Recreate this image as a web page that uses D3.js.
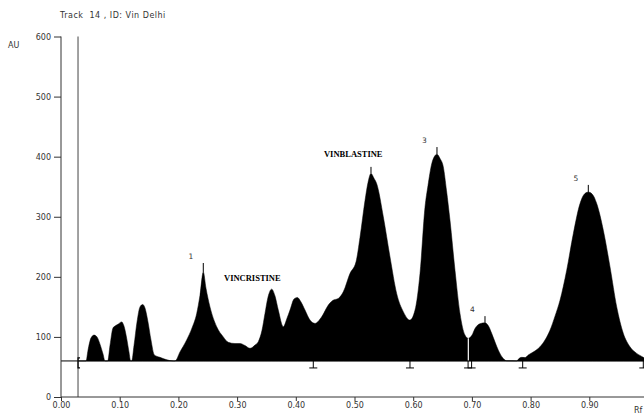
<!DOCTYPE html>
<html><head><meta charset="utf-8">
<script src="https://cdn.jsdelivr.net/npm/d3@7"></script>
<style>
body{margin:0;background:#fff}
svg{display:block}
</style>
</head><body>
<svg id="c" width="644" height="414"></svg>
<script>
// ---- data ----
const rf = [0.029,0.0426,0.046,0.051,0.0562,0.0613,0.0664,0.0716,0.075,
0.0796,0.0835,0.0886,0.092,0.097,0.1034,0.1073,0.1124,0.1158,0.1187,
0.1204,0.1244,0.1295,0.1346,0.1392,0.1431,0.1482,0.1533,0.159,0.1687,0.1789,0.1913,
0.1942,0.2027,0.2141,0.2232,0.2312,0.2368,0.2424,0.247,0.2538,0.2652,0.2765,0.285,0.2964,0.3049,0.3135,0.322,0.3305,0.3361,
0.3424,0.3475,0.3526,0.3589,0.3646,0.3702,0.3787,0.385,0.3901,0.3969,0.4026,0.4089,0.4157,0.4242,0.4327,
0.4441,0.4554,0.4634,0.4724,0.4809,0.4923,0.5026,0.5094,0.5179,0.523,0.5281,0.5332,0.5378,0.5491,0.5605,0.5719,0.5831,0.5945,
0.6031,0.6116,0.6201,0.6252,0.6315,0.6363,0.6405,0.6457,0.6513,0.6567,0.6627,0.6712,0.6797,0.6882,0.6939,
0.7002,0.7053,0.7138,0.7223,0.7283,0.7337,0.7394,0.745,0.7535,0.7593,0.7763,0.7802,0.7848,0.7905,0.7961,
0.8058,0.816,0.8245,0.833,0.8416,0.8501,0.8615,0.8728,0.8842,0.891,0.8983,0.9055,0.9126,0.9239,0.9353,0.9467,0.9579,0.9693,0.9807,0.992,1.0];
const au = [60,60,78,98,103,100,88,71.5,60,
60,86,115,118,121,125,118,95,75,60,
60,86,125,150,154,148,125,95,70,66,62.3,60,
60,75,95,115,139,169.5,208,181,150,117,100,91,89,89,85.6,81,86.4,92,
111,139,166,179.5,168,144.6,117,131,144.6,163,165.7,158,144.6,128,122.5,
133.5,153,161,164,175,205.6,225,266,327,357,372,364,355,300,233,172,142,128,
144.6,205.6,316,352,388,400.5,404,397,383,344,294,211,139,103,97.6,
103,114,122,123.5,118,106,91.4,78,64,60.3,60,64,66,65.6,70,
75.6,83.6,94.7,111,134.6,161,211,272,322,337,341,337,322,277.5,216.5,150,106,83.6,72.6,66,60];

const xTicks = [0,0.1,0.2,0.3,0.4,0.5,0.6,0.7,0.8,0.9];
const yTicks = [0,100,200,300,400,500,600];
const baselineAU = 60;
const startRf = 0.029;
const peakRf = [0.2424,0.5281,0.6405,0.7223,0.8983];
const peakAU = [208,372,404,123.5,341];
const peakTickAU = [223,383,416,134.6,353];
const peakLabels = ["1","","3","4","5"];
const boundaryRf = [0.4298,0.5945,0.6935,0.6995,0.7865,0.992];
const separatorRf = 0.6939;
const separatorAU = 97.6;
const annoText = ["VINCRISTINE","VINBLASTINE"];
const annoRf = [0.2777,0.448];
const annoAU = [193,400];
const title = "Track  14 , ID: Vin Delhi";

// ---- chart ----
const svg = d3.select("#c");
const x = d3.scaleLinear().domain([0,1]).range([61,648]);
const y = d3.scaleLinear().domain([0,600]).range([397,36.5]);
const axisCol = "#333";
const sans = "'DejaVu Sans',Verdana,sans-serif";

function label(tx,ty,t,size){
  return svg.append("text").attr("x",tx).attr("y",ty).style("font-family",sans)
    .style("font-size",size+"px").style("white-space","pre").attr("fill","#333").text(t);
}
label(60,18,title,8).style("letter-spacing","0.5px");
label(8,48,"AU",8);
label(634,413,"Rf",8);

// profile area
const pts = rf.map((r,i)=>[r,au[i]]);
const area = d3.area().x(d=>x(d[0])).y0(y(baselineAU)).y1(d=>y(d[1])).curve(d3.curveMonotoneX);
svg.append("path").datum(pts).attr("d",area).attr("fill","#000").attr("stroke","#000").attr("stroke-width",0.5);

// separator (white)
svg.append("line").attr("x1",x(separatorRf)).attr("x2",x(separatorRf))
  .attr("y1",y(baselineAU)).attr("y2",y(separatorAU)).attr("stroke","#fff").attr("stroke-width",1.2);

// baseline
svg.append("line").attr("x1",61).attr("x2",648).attr("y1",y(baselineAU)).attr("y2",y(baselineAU))
  .attr("stroke","#000").attr("stroke-width",1);

// start line
svg.append("line").attr("x1",x(startRf)).attr("x2",x(startRf)).attr("y1",y(600)).attr("y2",y(0))
  .attr("stroke","#444").attr("stroke-width",1);
// start marker
svg.append("path").attr("d",`M${x(startRf)+2},${y(baselineAU)-3} L${x(startRf)},${y(baselineAU)-3} L${x(startRf)},${y(baselineAU)+7} L${x(startRf)+2},${y(baselineAU)+7}`)
  .attr("fill","none").attr("stroke","#000").attr("stroke-width",1.2);

// boundary markers
const bm = svg.append("g");
boundaryRf.forEach(r=>{
  const px = x(r), py = y(baselineAU);
  bm.append("path").attr("d",`M${px},${py} L${px},${py+7} M${px-4},${py+7} L${px+4},${py+7}`)
    .attr("stroke","#000").attr("stroke-width",1).attr("fill","none");
});

// peak ticks and labels
peakRf.forEach((r,i)=>{
  svg.append("line").attr("x1",x(r)).attr("x2",x(r)).attr("y1",y(peakAU[i])).attr("y2",y(peakTickAU[i]))
    .attr("stroke","#000").attr("stroke-width",1);
  if(peakLabels[i]) label(x(r)-12.5,y(peakTickAU[i])-4,peakLabels[i],7.5).attr("text-anchor","middle");
});

annoText.forEach((t,i)=>{
  svg.append("text").attr("x",x(annoRf[i])).attr("y",y(annoAU[i]))
    .style("font-family","'Liberation Serif','Times New Roman',serif").style("font-weight","bold")
    .style("font-size","8.5px").attr("fill","#000").text(t);
});

// axes
const ya = svg.append("g").attr("transform","translate(61,0)")
  .call(d3.axisLeft(y).tickValues(yTicks).tickSize(7).tickPadding(3).tickFormat(d3.format("d")));
const xa = svg.append("g").attr("transform","translate(0,397)")
  .call(d3.axisBottom(x).tickValues(xTicks).tickSize(4).tickPadding(1).tickFormat(d3.format(".2f")));
[ya,xa].forEach(a=>{
  a.select(".domain").attr("stroke",axisCol);
  a.selectAll(".tick line").attr("stroke",axisCol);
  a.selectAll("text").style("font-size","8px").attr("fill","#333").style("font-family",sans);
});
ya.select(".domain").attr("d","M0,36.5V397");
xa.select(".domain").attr("d","M61,0H648");
</script>
</body></html>
